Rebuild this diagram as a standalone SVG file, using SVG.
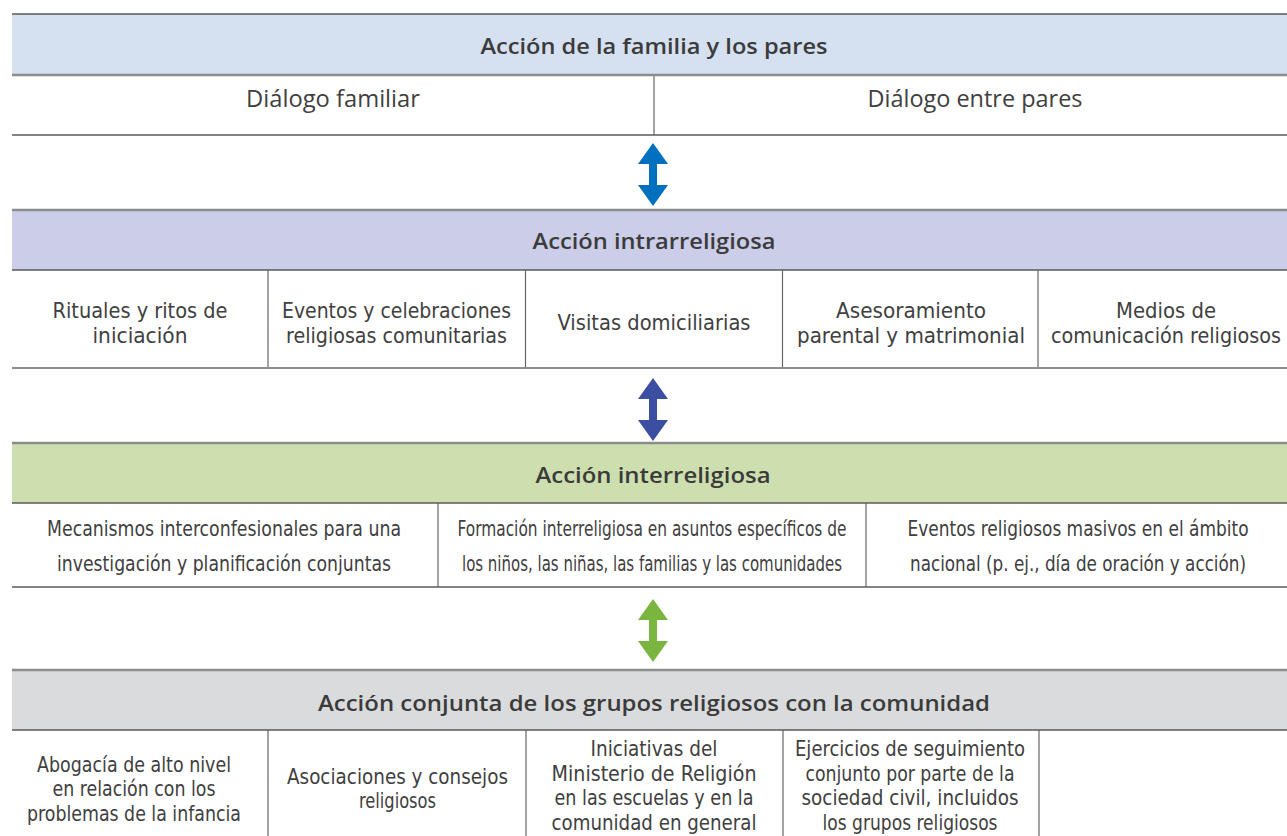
<svg xmlns="http://www.w3.org/2000/svg" xmlns:xlink="http://www.w3.org/1999/xlink" width="1287" height="836" viewBox="0 0 1287 836">
<style>
.hd{font-family:"Open Sans","Liberation Sans",sans-serif;font-weight:600;font-size:21px;fill:#3b3b3b;text-anchor:middle}
.r1{font-family:"Open Sans","Liberation Sans",sans-serif;font-size:23px;fill:#404040;text-anchor:middle}
.nr{font-family:"Liberation Sans Narrow","DejaVu Sans Condensed","Liberation Sans",sans-serif;fill:#404040;text-anchor:middle}
.s23{font-size:21px}
.s21{font-size:21px}
.dk{stroke:#5a5a5a;stroke-width:1.5;fill:none}
.gr{stroke:#8c8c8c;stroke-width:2.5;fill:none}
.vd{stroke:#666;stroke-width:1.2;fill:none}
</style>
<defs>
<path id="arr" d="M0,0 L15,21 L4,21 L4,42 L15,42 L0,63 L-15,42 L-4,42 L-4,21 L-15,21 Z"/>
</defs>
<rect width="1287" height="836" fill="#fff"/>

<g id="level1">
<rect x="12" y="14" width="1275" height="61" fill="#d5e0f0"/>
<text class="hd" x="654" y="54" textLength="347" lengthAdjust="spacingAndGlyphs">Acción de la familia y los pares</text>
<line class="vd" x1="654" y1="75" x2="654" y2="135"/>
<text class="r1" x="333" y="107" textLength="174" lengthAdjust="spacingAndGlyphs">Diálogo familiar</text>
<text class="r1" x="975" y="107" textLength="215" lengthAdjust="spacingAndGlyphs">Diálogo entre pares</text>
<line class="dk" x1="12" y1="14" x2="1287" y2="14"/>
<line class="gr" x1="12" y1="75" x2="1287" y2="75"/>
<line class="dk" x1="12" y1="135" x2="1287" y2="135"/>
</g>

<g id="level2">
<rect x="12" y="210" width="1275" height="60" fill="#cccde8"/>
<text class="hd" x="654" y="249" textLength="243" lengthAdjust="spacingAndGlyphs">Acción intrarreligiosa</text>
<line class="vd" x1="268" y1="270" x2="268" y2="368"/>
<line class="vd" x1="525.5" y1="270" x2="525.5" y2="368"/>
<line class="vd" x1="782.5" y1="270" x2="782.5" y2="368"/>
<line class="vd" x1="1038" y1="270" x2="1038" y2="368"/>
<g class="nr s23">
<text transform="translate(140,318) scale(0.85,1)" textLength="205.9" lengthAdjust="spacingAndGlyphs">Rituales y ritos de</text>
<text transform="translate(140,342.5) scale(0.85,1)" textLength="111.8" lengthAdjust="spacingAndGlyphs">iniciación</text>
<text transform="translate(396.5,318) scale(0.85,1)" textLength="269.4" lengthAdjust="spacingAndGlyphs">Eventos y celebraciones</text>
<text transform="translate(396.5,342.5) scale(0.85,1)" textLength="260" lengthAdjust="spacingAndGlyphs">religiosas comunitarias</text>
<text transform="translate(654,330) scale(0.85,1)" textLength="227.1" lengthAdjust="spacingAndGlyphs">Visitas domiciliarias</text>
<text transform="translate(911,318) scale(0.85,1)" textLength="176.5" lengthAdjust="spacingAndGlyphs">Asesoramiento</text>
<text transform="translate(911,342.5) scale(0.85,1)" textLength="268.2" lengthAdjust="spacingAndGlyphs">parental y matrimonial</text>
<text transform="translate(1166,318) scale(0.85,1)" textLength="117.6" lengthAdjust="spacingAndGlyphs">Medios de</text>
<text transform="translate(1166,342.5) scale(0.85,1)" textLength="270.6" lengthAdjust="spacingAndGlyphs">comunicación religiosos</text>
</g>
<line class="gr" x1="12" y1="210" x2="1287" y2="210"/>
<line class="dk" x1="12" y1="270" x2="1287" y2="270"/>
<line class="gr" x1="12" y1="368" x2="1287" y2="368" style="stroke-width:2"/>
</g>

<g id="level3">
<rect x="12" y="443" width="1275" height="60" fill="#cddfae"/>
<text class="hd" x="653" y="483" textLength="235" lengthAdjust="spacingAndGlyphs">Acción interreligiosa</text>
<line class="vd" x1="438" y1="503" x2="438" y2="587"/>
<line class="vd" x1="866" y1="503" x2="866" y2="587"/>
<g class="nr s21">
<text transform="translate(224,536) scale(0.85,1)" textLength="416.5" lengthAdjust="spacingAndGlyphs">Mecanismos interconfesionales para una</text>
<text transform="translate(224,571) scale(0.85,1)" textLength="392.9" lengthAdjust="spacingAndGlyphs">investigación y planificación conjuntas</text>
<text transform="translate(652,536) scale(0.85,1)" textLength="457.6" lengthAdjust="spacingAndGlyphs">Formación interreligiosa en asuntos específicos de</text>
<text transform="translate(652,571) scale(0.85,1)" textLength="447.1" lengthAdjust="spacingAndGlyphs">los niños, las niñas, las familias y las comunidades</text>
<text transform="translate(1078,536) scale(0.85,1)" textLength="401.2" lengthAdjust="spacingAndGlyphs">Eventos religiosos masivos en el ámbito</text>
<text transform="translate(1078,571) scale(0.85,1)" textLength="395.3" lengthAdjust="spacingAndGlyphs">nacional (p. ej., día de oración y acción)</text>
</g>
<line class="gr" x1="12" y1="443" x2="1287" y2="443"/>
<line class="dk" x1="12" y1="503" x2="1287" y2="503"/>
<line class="dk" x1="12" y1="587" x2="1287" y2="587"/>
</g>

<g id="level4">
<rect x="12" y="670" width="1275" height="60" fill="#dadbdd"/>
<text class="hd" x="654" y="711" textLength="672" lengthAdjust="spacingAndGlyphs">Acción conjunta de los grupos religiosos con la comunidad</text>
<line class="vd" x1="268" y1="730" x2="268" y2="836"/>
<line class="vd" x1="526" y1="730" x2="526" y2="836"/>
<line class="vd" x1="783" y1="730" x2="783" y2="836"/>
<line class="vd" x1="1039" y1="730" x2="1039" y2="836"/>
<g class="nr s23">
<text transform="translate(134,771.5) scale(0.85,1)" textLength="228.2" lengthAdjust="spacingAndGlyphs">Abogacía de alto nivel</text>
<text transform="translate(134,796) scale(0.85,1)" textLength="191.8" lengthAdjust="spacingAndGlyphs">en relación con los</text>
<text transform="translate(134,820.5) scale(0.85,1)" textLength="251.8" lengthAdjust="spacingAndGlyphs">problemas de la infancia</text>
<text transform="translate(397.5,783.75) scale(0.85,1)" textLength="260" lengthAdjust="spacingAndGlyphs">Asociaciones y consejos</text>
<text transform="translate(397.5,808.25) scale(0.85,1)" textLength="90.6" lengthAdjust="spacingAndGlyphs">religiosos</text>
<text transform="translate(654,756.25) scale(0.85,1)" textLength="149.4" lengthAdjust="spacingAndGlyphs">Iniciativas del</text>
<text transform="translate(654,780.75) scale(0.85,1)" textLength="241.2" lengthAdjust="spacingAndGlyphs">Ministerio de Religión</text>
<text transform="translate(654,805.25) scale(0.85,1)" textLength="234.1" lengthAdjust="spacingAndGlyphs">en las escuelas y en la</text>
<text transform="translate(654,829.5) scale(0.85,1)" textLength="241.2" lengthAdjust="spacingAndGlyphs">comunidad en general</text>
<text transform="translate(910,756.25) scale(0.85,1)" textLength="270.6" lengthAdjust="spacingAndGlyphs">Ejercicios de seguimiento</text>
<text transform="translate(910,780.75) scale(0.85,1)" textLength="245.9" lengthAdjust="spacingAndGlyphs">conjunto por parte de la</text>
<text transform="translate(910,805.25) scale(0.85,1)" textLength="255.3" lengthAdjust="spacingAndGlyphs">sociedad civil, incluidos</text>
<text transform="translate(910,829.5) scale(0.85,1)" textLength="205.9" lengthAdjust="spacingAndGlyphs">los grupos religiosos</text>
</g>
<line class="gr" x1="12" y1="670" x2="1287" y2="670"/>
<line class="dk" x1="12" y1="730" x2="1287" y2="730"/>
</g>

<g id="connectors">
<use xlink:href="#arr" href="#arr" transform="translate(653,143)" fill="#0070bf"/>
<use xlink:href="#arr" href="#arr" transform="translate(653,378)" fill="#3b4ea1"/>
<use xlink:href="#arr" href="#arr" transform="translate(653,599)" fill="#7ab540"/>
</g>
</svg>
